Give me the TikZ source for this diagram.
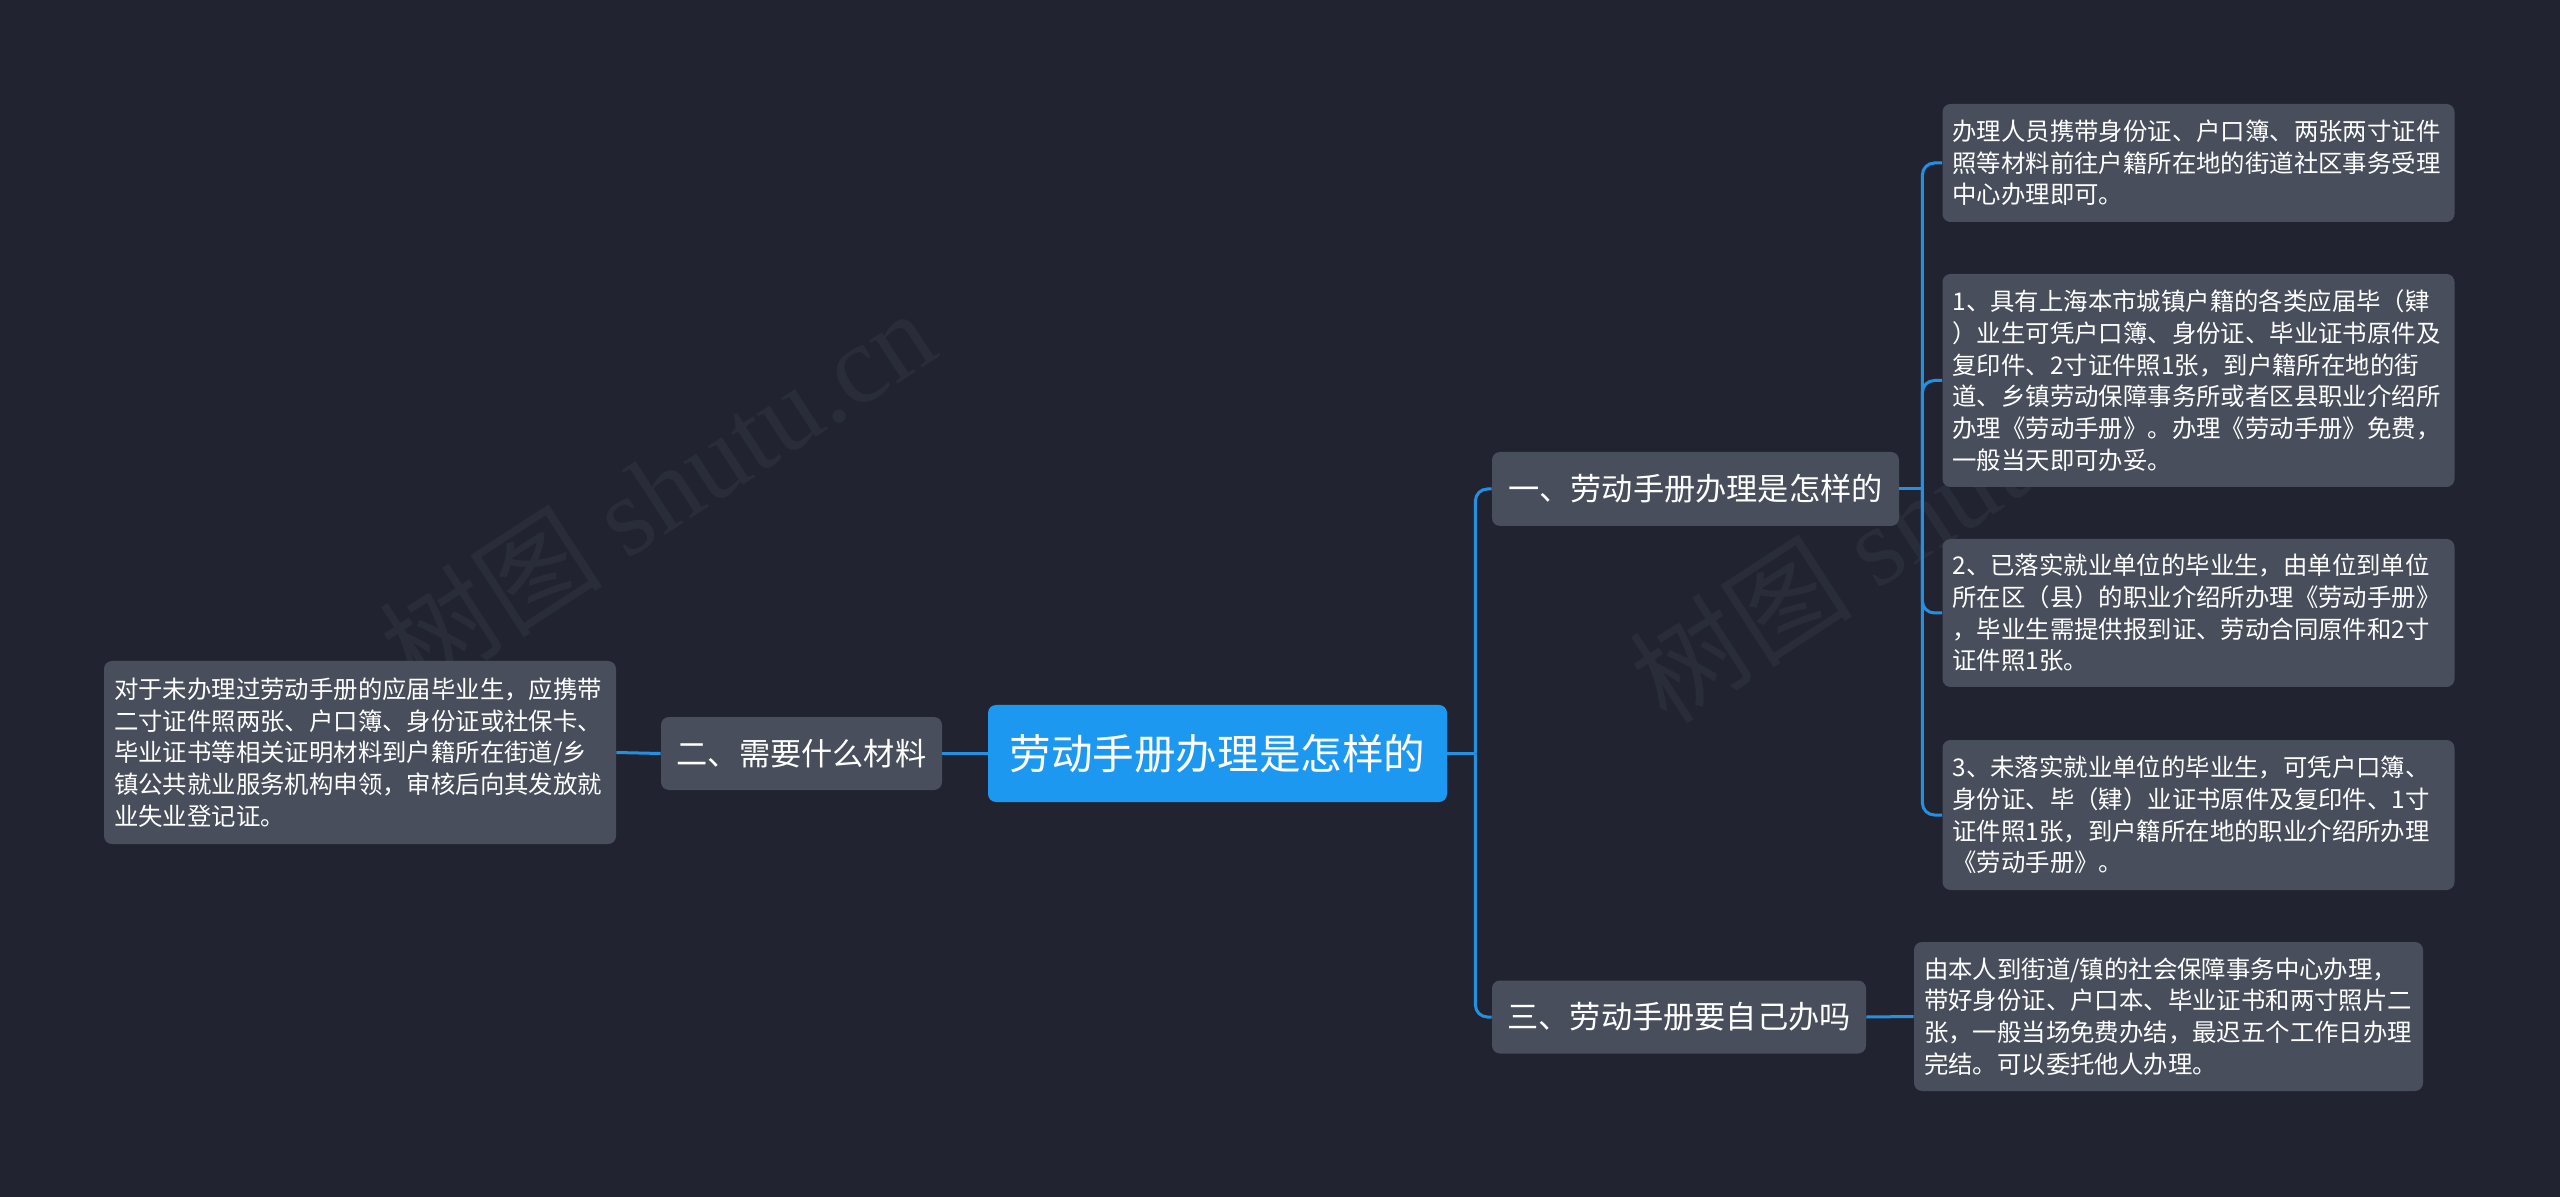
\documentclass[tikz,border=0pt]{standalone}
\usepackage{fontspec}
\setmainfont{Noto Sans CJK SC}
\newfontfamily\wmfont{Liberation Serif}
\definecolor{bgcolor}{RGB}{33,36,48}
\definecolor{boxcolor}{RGB}{72,78,92}
\definecolor{rootcolor}{RGB}{29,152,240}
\definecolor{linkcolor}{RGB}{35,144,226}
\definecolor{markcolor}{RGB}{41,45,57}

\begin{document}
\begin{tikzpicture}[x=0.5pt, y=-0.5pt,
  topic/.style={fill=boxcolor, rounded corners=4pt, text=white, inner sep=0pt, font=\fontsize{15.6}{18}\selectfont},
  leaf/.style={fill=boxcolor, rounded corners=4pt, text=white, align=left, text width=246pt, inner xsep=5pt, inner ysep=0pt, font=\fontsize{12.2}{15.85}\selectfont},
  link/.style={draw=linkcolor, line width=1.5pt},
  elbow/.style={link, rounded corners=6pt},
  wmark/.style={text=markcolor, rotate=33, font=\fontsize{56}{56}\selectfont}]
  % Background and watermark
  \fill[bgcolor] (0,0) rectangle (2560,1197);
  \node[wmark] (WM1) at (657,490) {树图 {\wmfont shutu.cn}};
  \node[wmark] (WM2) at (1907,520) {树图 {\wmfont shutu.cn}};

  % Root
  \node[fill=rootcolor, rounded corners=4pt, text=white, minimum width=229.5pt, minimum height=48.5pt, font=\fontsize{20.8}{24}\selectfont] (ROOT) at (1217.5,753.5) {劳动手册办理是怎样的};

  % Branches
  \node[topic, minimum width=140.5pt, minimum height=36.5pt] (MAT) at (801.5,753.5) {二、需要什么材料};
  \node[topic, minimum width=203.5pt, minimum height=37pt] (HOW) at (1695.5,489) {一、劳动手册办理是怎样的};
  \node[topic, minimum width=187pt, minimum height=36.5pt] (SELF) at (1679,1017) {三、劳动手册要自己办吗};

  % Left leaf
  \node[leaf, minimum height=91.5pt] (MATTXT) at (360,752.5) {对于未办理过劳动手册的应届毕业生，应携带\\
  二寸证件照两张、户口簿、身份证或社保卡、\\
  毕业证书等相关证明材料到户籍所在街道/乡\\
  镇公共就业服务机构申领，审核后向其发放就\\
  业失业登记证。};

  % Right leaves
  \node[leaf, minimum height=59pt] (HOW1) at (2198.5,163) {办理人员携带身份证、户口簿、两张两寸证件\\
  照等材料前往户籍所在地的街道社区事务受理\\
  中心办理即可。};
  \node[leaf, minimum height=106.5pt] (HOW2) at (2198.5,380.5) {1、具有上海本市城镇户籍的各类应届毕（肄\\
  ）业生可凭户口簿、身份证、毕业证书原件及\\
  复印件、2寸证件照1张，到户籍所在地的街\\
  道、乡镇劳动保障事务所或者区县职业介绍所\\
  办理《劳动手册》。办理《劳动手册》免费，\\
  一般当天即可办妥。};
  \node[leaf, minimum height=74pt] (HOW3) at (2198.5,613) {2、已落实就业单位的毕业生，由单位到单位\\
  所在区（县）的职业介绍所办理《劳动手册》\\
  ，毕业生需提供报到证、劳动合同原件和2寸\\
  证件照1张。};
  \node[leaf, minimum height=75pt] (HOW4) at (2198.5,815) {3、未落实就业单位的毕业生，可凭户口簿、\\
  身份证、毕（肄）业证书原件及复印件、1寸\\
  证件照1张，到户籍所在地的职业介绍所办理\\
  《劳动手册》。};
  \node[leaf, text width=244.5pt, minimum height=74.5pt] (SELFTXT) at (2168.5,1016.5) {由本人到街道/镇的社会保障事务中心办理，\\
  带好身份证、户口本、毕业证书和两寸照片二\\
  张，一般当场免费办结，最迟五个工作日办理\\
  完结。可以委托他人办理。};

  % Connectors
  \draw[link] (ROOT.west) -- (MAT.east);
  \draw[link] (MAT.west) -- (MATTXT.east);
  \coordinate (J1) at ([xshift=14pt]ROOT.east);
  \draw[link] (ROOT.east) -- (J1);
  \foreach \n in {HOW,SELF} \draw[elbow] (J1) |- (\n.west);
  \coordinate (J2) at ([xshift=11.5pt]HOW.east);
  \draw[link] (HOW.east) -- (J2);
  \foreach \n in {HOW1,HOW2,HOW3,HOW4} \draw[elbow] (J2) |- (\n.west);
  \draw[link] (SELF.east) -- (SELFTXT.west);
\end{tikzpicture}
\end{document}
